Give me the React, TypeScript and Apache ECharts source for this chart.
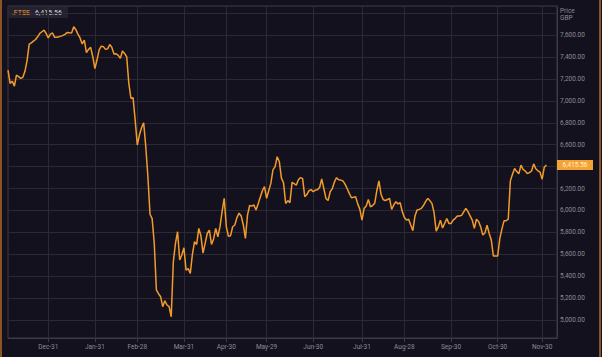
import React, { useEffect, useRef } from "react";
import * as echarts from "echarts";

// UK market holidays within the displayed range (trading-day category axis)
const holidays: string[] = [
  "2019-12-25", "2019-12-26", "2020-01-01", "2020-04-10",
  "2020-04-13", "2020-05-08", "2020-05-25", "2020-08-31",
];
const firstDay = "2019-12-02";
const lastDay = "2020-12-09";

// tick dates and labels
const tickDates: string[] = [
  "2019-12-31", "2020-01-31", "2020-02-28", "2020-03-31", "2020-04-30", "2020-05-29",
  "2020-06-30", "2020-07-31", "2020-08-28", "2020-09-30", "2020-10-30", "2020-11-30",
];
const tickLabels: string[] = [
  "Dec-31", "Jan-31", "Feb-28", "Mar-31", "Apr-30", "May-29",
  "Jun-30", "Jul-31", "Aug-28", "Sep-30", "Oct-30", "Nov-30",
];

// FTSE 100 closing values, one per trading day from 2019-12-02
const ftseDec: number[] = [
  7281, 7160, 7180, 7135, 7235, 7222, 7205, 7215, 7270, 7370, 7518, 7530, 7545, 7560,
  7585, 7616, 7631, 7646, 7615, 7575,
];
const ftseJan: number[] = [
  7610, 7620, 7580, 7580, 7585, 7591, 7598, 7610, 7625, 7621, 7620, 7676, 7650, 7610,
  7575, 7520, 7555, 7440, 7470, 7488, 7403, 7295,
];
const ftseFeb: number[] = [
  7375, 7465, 7500, 7495, 7470, 7475, 7515, 7488, 7427, 7430, 7415, 7388, 7455, 7433,
  7403, 7160, 7023, 7030, 6825, 6597,
];
const ftseMar: number[] = [
  6688, 6755, 6800, 6582, 6308, 5965, 5925, 5700, 5275, 5240, 5213, 5122, 5175, 5137,
  5122, 5030, 5532, 5700, 5806, 5548, 5593, 5660,
];
const ftseApr: number[] = [
  5456, 5470, 5426, 5600, 5715, 5690, 5836, 5770, 5610, 5700, 5790, 5821, 5690, 5740,
  5836, 5760, 5850, 5990, 6110, 5850,
];
const ftseMay: number[] = [
  5765, 5770, 5851, 5867, 5935, 5975, 5950, 5870, 5745, 5960, 6045, 6040, 6050, 6004,
  6060, 6120, 6180, 6217, 6110,
];
const ftseJun: number[] = [
  6180, 6247, 6370, 6400, 6490, 6445, 6295, 6250, 6064, 6090, 6070, 6256, 6245, 6230,
  6280, 6300, 6290, 6125, 6145, 6180, 6190, 6171,
];
const ftseJul: number[] = [
  6186, 6190, 6210, 6287, 6200, 6110, 6090, 6171, 6200, 6260, 6299, 6280, 6277, 6270,
  6240, 6200, 6156, 6116, 6120, 6125, 6060, 6010, 5912,
];
const ftseAug: number[] = [
  6019, 6040, 6100, 6034, 6045, 6065, 6180, 6270, 6145, 6100, 6089, 6100, 6110, 6010,
  6050, 6080, 6060, 6070, 5990, 5935,
];
const ftseSep: number[] = [
  5912, 5920, 5867, 5815, 5950, 6004, 6010, 6019, 6045, 6080, 6110, 6090, 6065, 5980,
  5812, 5850, 5912, 5840, 5882, 5925, 5882, 5880,
];
const ftseOct: number[] = [
  5912, 5928, 5949, 5949, 5955, 5988, 6019, 5990, 5950, 5912, 5836, 5920, 5900, 5850,
  5776, 5795, 5865, 5790, 5730, 5584, 5584, 5584,
];
const ftseNov: number[] = [
  5740, 5830, 5905, 5906, 5920, 6270, 6330, 6384, 6355, 6335, 6414, 6375, 6360, 6338,
  6345, 6360, 6425, 6380, 6362, 6350, 6285,
];
const ftseDecEnd: number[] = [6395, 6415.56];

const ftseValues: number[] = [
  ...ftseDec, ...ftseJan, ...ftseFeb, ...ftseMar, ...ftseApr, ...ftseMay,
  ...ftseJun, ...ftseJul, ...ftseAug, ...ftseSep, ...ftseOct, ...ftseNov, ...ftseDecEnd,
];

const yMin = 4836;
const yMax = 7866;

function buildTradingDays(start: string, end: string, skip: string[]): string[] {
  const out: string[] = [];
  const d = new Date(start + "T00:00:00Z");
  const e = new Date(end + "T00:00:00Z");
  while (d.getTime() <= e.getTime()) {
    const s = d.toISOString().slice(0, 10);
    const wd = d.getUTCDay();
    if (wd !== 0 && wd !== 6 && skip.indexOf(s) < 0) out.push(s);
    d.setUTCDate(d.getUTCDate() + 1);
  }
  return out;
}

const fmt = (v: number) =>
  v.toLocaleString("en-US", { minimumFractionDigits: 2, maximumFractionDigits: 2 });

export default function App() {
  const ref = useRef<HTMLDivElement>(null);
  useEffect(() => {
    document.body.style.margin = "0";
    if (!ref.current) return;
    const chart = echarts.init(ref.current, undefined, { renderer: "svg" });
    const categories = buildTradingDays(firstDay, lastDay, holidays);
    const tickSet = new Set(tickDates);
    const isTick = (idx: number) => tickSet.has(categories[idx]);
    const last = ftseValues[ftseValues.length - 1];
    const font = "Roboto, 'Noto Sans', sans-serif";
    const gridColor = "#2c2937";
    const axisColor = "#3c3948";
    const labelColor = "#8c8a98";
    const orange = "#f39b2a";

    chart.setOption({
      animation: false,
      backgroundColor: "#14111e",
      textStyle: { fontFamily: font },
      grid: {
        left: 8, right: 45, top: 6, bottom: 19,
        show: true, borderColor: axisColor, borderWidth: 1,
        containLabel: false,
      },
      xAxis: {
        type: "category",
        data: categories,
        boundaryGap: false,
        axisLine: { show: true, lineStyle: { color: axisColor, width: 1 } },
        axisTick: { show: true, interval: (i: number) => isTick(i), length: 4, lineStyle: { color: axisColor } },
        splitLine: { show: true, interval: (i: number) => isTick(i), lineStyle: { color: gridColor, width: 1 } },
        axisLabel: {
          interval: (i: number) => isTick(i),
          color: labelColor,
          fontSize: 6.5,
          fontFamily: font,
          margin: 5,
          formatter: (v: string) => {
            const k = tickDates.indexOf(v);
            return k >= 0 ? tickLabels[k] : "";
          },
        },
      },
      yAxis: {
        type: "value",
        position: "right",
        min: yMin,
        max: yMax,
        splitNumber: 15,
        minInterval: 200,
        maxInterval: 200,
        scale: true,
        axisLine: { show: true, lineStyle: { color: axisColor } },
        axisTick: { show: false },
        splitLine: { show: true, lineStyle: { color: gridColor, width: 1 } },
        axisLabel: {
          color: labelColor,
          fontSize: 6.5,
          fontFamily: font,
          margin: 3,
          showMinLabel: false,
          showMaxLabel: false,
          formatter: (v: number) =>
            v % 200 === 0 && v < 7700 && Math.abs(v - last) > 60 ? fmt(v) : "",
        },
      },
      series: [
        {
          type: "line",
          data: ftseValues,
          showSymbol: false,
          symbol: "none",
          lineStyle: { color: orange, width: 1.5 },
          itemStyle: { color: orange },
        },
      ],
      graphic: [
        { type: "rect", left: 0, top: 0, shape: { width: 2, height: 357 }, style: { fill: "#8a5526" } },
        { type: "rect", left: 599, top: 0, shape: { width: 2, height: 357 }, style: { fill: "#8a5526" } },
        { type: "rect", left: 9, top: 7, shape: { width: 59, height: 11 }, style: { fill: "#25222f" } },
        { type: "text", left: 12, top: 9, style: { text: ".FTSE", fill: orange, fontSize: 7, fontFamily: font } },
        { type: "text", left: 35, top: 9, style: { text: fmt(last), fill: "#d4d3dc", fontSize: 7, fontFamily: font } },
        { type: "text", left: 560, top: 7, style: { text: "Price", fill: labelColor, fontSize: 6.5, fontFamily: font } },
        { type: "text", left: 560, top: 14, style: { text: "GBP", fill: labelColor, fontSize: 6.5, fontFamily: font } },
      ],
    });

    const yPix = chart.convertToPixel({ yAxisIndex: 0 }, last) as number;
    chart.setOption({
      graphic: [
        {
          id: "lastBox", type: "rect", x: 557, y: Math.round(yPix) - 5,
          shape: { width: 36, height: 10 }, style: { fill: "#f5a234" }, z: 100,
        },
        {
          id: "lastText", type: "text", x: 575, y: Math.round(yPix),
          style: {
            text: fmt(last), fill: "#fff0d8", fontSize: 6.5, fontFamily: font,
            align: "center", verticalAlign: "middle",
          },
          z: 101,
        },
      ],
    });
    return () => chart.dispose();
  }, []);
  return <div ref={ref} style={{ width: 602, height: 357 }} />;
}
